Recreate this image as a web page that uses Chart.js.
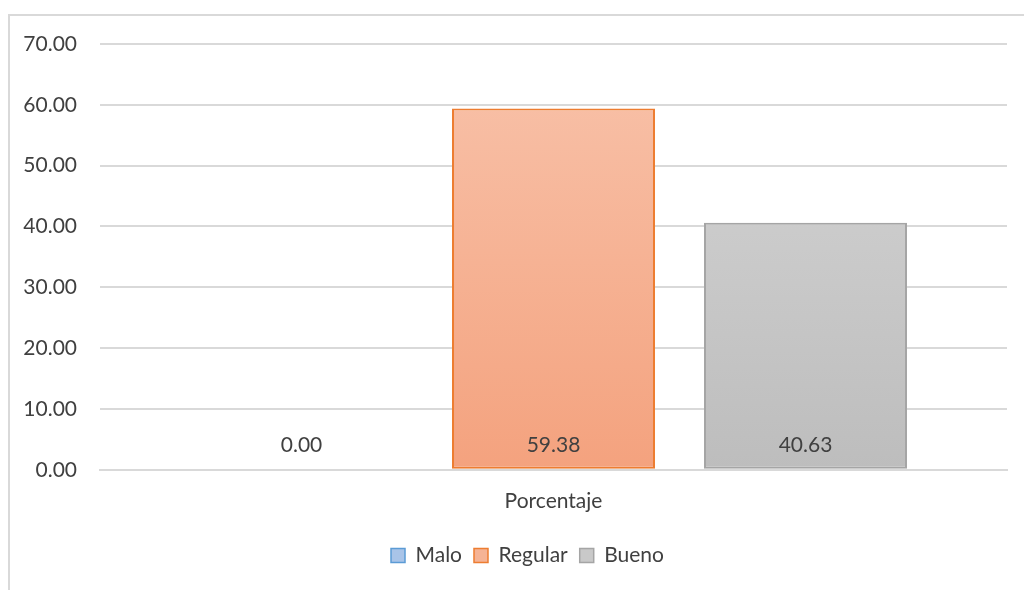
<!DOCTYPE html>
<html>
<head>
<meta charset="utf-8">
<script src="https://cdn.jsdelivr.net/npm/chart.js@4"></script>
<style>
  html, body { margin: 0; padding: 0; background: #ffffff; }
  #wrap { width: 1024px; height: 590px; position: relative; }
</style>
</head>
<body>
<div id="wrap"><canvas id="c" width="1024" height="590"></canvas></div>
<script>
const categories = ["Porcentaje"];
const seriesNames = ["Malo", "Regular", "Bueno"];
const maloValues = [0.00];
const regularValues = [59.38];
const buenoValues = [40.63];
const yTicks = [0, 10, 20, 30, 40, 50, 60, 70];

const FONT = "Lato, 'Open Sans', sans-serif";
const FS = 21;
const TEXT = "#404040";

function grad(ctx, top, bottom) {
  const chart = ctx.chart;
  const area = chart.chartArea;
  if (!area) return bottom;
  const g = chart.ctx.createLinearGradient(0, area.top, 0, area.bottom);
  g.addColorStop(0, top);
  g.addColorStop(1, bottom);
  return g;
}

const styles = [
  { top: "#c2d5ee", bottom: "#9dbce6", border: "#5b9bd5", legend: "#a9c4e8" },
  { top: "#f8c3ab", bottom: "#f4a27e", border: "#ed7d31", legend: "#f5b395" },
  { top: "#d6d6d6", bottom: "#bdbdbd", border: "#a5a5a5", legend: "#c9c9c9" }
];
const values = [maloValues, regularValues, buenoValues];

const frame = {
  id: "frame",
  beforeDraw(chart) {
    const c = chart.ctx;
    c.save();
    c.strokeStyle = "#d9d9d9";
    c.lineWidth = 2;
    c.beginPath();
    c.moveTo(9, 600);
    c.lineTo(9, 15);
    c.lineTo(1030, 15);
    c.stroke();
    c.restore();
  }
};

const legendShift = {
  id: "legendShift",
  afterLayout(chart) {
    if (chart.legend) {
      chart.legend.left += 14;
      chart.legend.right += 14;
    }
  }
};

const labelsPlugin = {
  id: "barLabels",
  afterDatasetsDraw(chart) {
    const c = chart.ctx;
    const yScale = chart.scales.y;
    c.save();
    c.font = FS + "px " + FONT;
    c.fillStyle = TEXT;
    c.textAlign = "center";
    c.textBaseline = "middle";
    chart.data.datasets.forEach((ds, i) => {
      const meta = chart.getDatasetMeta(i);
      meta.data.forEach((el, j) => {
        const v = ds.data[j];
        c.fillText(v.toFixed(2), el.x, yScale.getPixelForValue(0) - 25);
      });
    });
    c.restore();
  }
};

new Chart(document.getElementById("c"), {
  type: "bar",
  data: {
    labels: categories,
    datasets: seriesNames.map((name, i) => ({
      label: name,
      data: values[i],
      backgroundColor: (ctx) => grad(ctx, styles[i].top, styles[i].bottom),
      borderColor: styles[i].border,
      borderWidth: 2,
      borderSkipped: false,
      categoryPercentage: 0.8335,
      barPercentage: 0.8056
    }))
  },
  options: {
    responsive: false,
    animation: false,
    devicePixelRatio: 1,
    layout: { padding: { left: 20, right: 17, top: 44, bottom: 14 } },
    plugins: {
      tooltip: { enabled: false },
      legend: {
        position: "bottom",
        labels: {
          font: { family: FONT, size: FS },
          color: TEXT,
          boxWidth: 14,
          boxHeight: 14,
          padding: 12,
          generateLabels: (chart) => seriesNames.map((n, i) => ({
            text: n,
            fillStyle: styles[i].legend,
            strokeStyle: styles[i].border,
            lineWidth: 1.5,
            fontColor: TEXT,
            datasetIndex: i,
            hidden: false
          }))
        }
      }
    },
    scales: {
      x: {
        grid: { display: false, drawTicks: false },
        border: { display: true, color: "#d9d9d9", width: 2 },
        ticks: { font: { family: FONT, size: FS }, color: TEXT, padding: 19 }
      },
      y: {
        min: 0,
        max: 70,
        afterFit(scale) { scale.width = 80; },
        afterBuildTicks(scale) { scale.ticks = yTicks.map(v => ({ value: v })); },
        grid: { color: "#d9d9d9", lineWidth: 2, drawTicks: false },
        border: { display: false },
        ticks: {
          font: { family: FONT, size: FS },
          color: TEXT,
          padding: 23,
          callback: (v) => Number(v).toFixed(2)
        }
      }
    }
  },
  plugins: [frame, legendShift, labelsPlugin]
});
</script>
</body>
</html>
